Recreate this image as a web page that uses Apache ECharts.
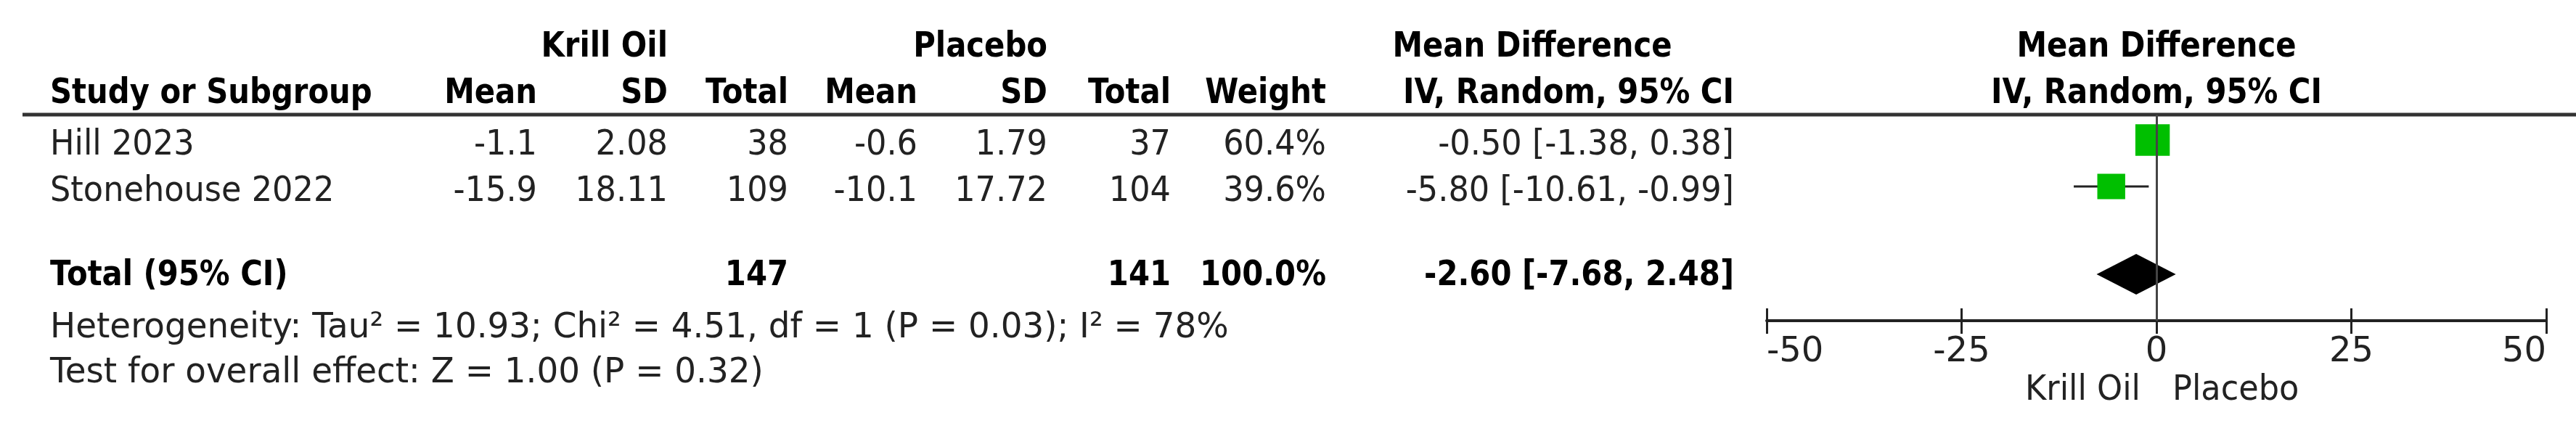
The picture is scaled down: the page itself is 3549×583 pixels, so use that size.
<!DOCTYPE html>
<html><head><meta charset="utf-8">
<script src="https://cdn.jsdelivr.net/npm/echarts@6/dist/echarts.min.js"></script>
<style>html,body{margin:0;padding:0;background:#fff}#c{width:3549px;height:583px}</style>
</head><body><div id="c"></div>
<script>
// ---------------- data ----------------
const studies = ['Hill 2023', 'Stonehouse 2022'];
const krillMean = [-1.1, -15.9];
const krillSD = [2.08, 18.11];
const krillN = [38, 109];
const placeboMean = [-0.6, -10.1];
const placeboSD = [1.79, 17.72];
const placeboN = [37, 104];
const weights = [60.4, 39.6];
const md = [-0.50, -5.80];
const ciLow = [-1.38, -10.61];
const ciHigh = [0.38, -0.99];
const totalKrillN = 147;
const totalPlaceboN = 141;
const totalWeight = 100.0;
const totalMD = -2.60;
const totalLow = -7.68;
const totalHigh = 2.48;
const xTicks = [-50, -25, 0, 25, 50];
const groupNames = ['Krill Oil', 'Placebo'];
const heterogeneityText = 'Heterogeneity: Tau\u00b2 = 10.93; Chi\u00b2 = 4.51, df = 1 (P = 0.03); I\u00b2 = 78%';
const overallText = 'Test for overall effect: Z = 1.00 (P = 0.32)';

// ---------------- layout ----------------
const FS = 48;
const FAMILY = '"DejaVu Sans", Verdana, sans-serif';
const SX_REG = 0.93, SX_BOLD = 0.87, SX_NOTE = 0.975;
const TEXT_DY = 12;
const COL = { study: 69, kMean: 740, kSD: 920, kN: 1086, pMean: 1264, pSD: 1443, pN: 1613, w: 1827, ci: 2389, mdHead: 2111, plot: 2971 };
const BASE = { h1: 78, h2: 142, rows: [213, 277], total: 393, het: 465, test: 527, dir: 551 };
const PLOT = { left: 2434, width: 1074, top: 158, height: 284 };
const ROW0_PX = 193, ROW_PX = 64, TOTAL_ROW = 2.89;
const GREEN = '#00BF00';

function fmtCI(m, lo, hi) { return m.toFixed(2) + ' [' + lo.toFixed(2) + ', ' + hi.toFixed(2) + ']'; }

function T(str, x, baseline, align, bold, color, sx) {
  return {
    type: 'text', x: x, y: baseline - TEXT_DY, scaleX: sx || (bold ? SX_BOLD : SX_REG), scaleY: 1,
    silent: true,
    style: {
      text: String(str), x: 0, y: 0,
      font: (bold ? 'bold ' : '') + FS + 'px ' + FAMILY,
      fill: color || (bold ? '#000' : '#222'),
      align: align, textAlign: align, verticalAlign: 'middle', textVerticalAlign: 'middle'
    }
  };
}

const g = [];
// header line 1
g.push(T(groupNames[0], COL.kSD, BASE.h1, 'right', true));
g.push(T(groupNames[1], COL.pSD, BASE.h1, 'right', true));
g.push(T('Mean Difference', COL.mdHead, BASE.h1, 'center', true));
g.push(T('Mean Difference', COL.plot, BASE.h1, 'center', true));
// header line 2
g.push(T('Study or Subgroup', COL.study, BASE.h2, 'left', true));
g.push(T('Mean', COL.kMean, BASE.h2, 'right', true));
g.push(T('SD', COL.kSD, BASE.h2, 'right', true));
g.push(T('Total', COL.kN, BASE.h2, 'right', true));
g.push(T('Mean', COL.pMean, BASE.h2, 'right', true));
g.push(T('SD', COL.pSD, BASE.h2, 'right', true));
g.push(T('Total', COL.pN, BASE.h2, 'right', true));
g.push(T('Weight', COL.w, BASE.h2, 'right', true));
g.push(T('IV, Random, 95% CI', COL.ci, BASE.h2, 'right', true));
g.push(T('IV, Random, 95% CI', COL.plot, BASE.h2, 'center', true));
// rule
g.push({ type: 'line', silent: true, shape: { x1: 31, y1: 158, x2: 3549, y2: 158 }, style: { stroke: '#333', lineWidth: 5 } });
// study rows
studies.forEach(function (s, i) {
  const b = BASE.rows[i];
  g.push(T(s, COL.study, b, 'left', false));
  g.push(T(String(krillMean[i]), COL.kMean, b, 'right', false));
  g.push(T(String(krillSD[i]), COL.kSD, b, 'right', false));
  g.push(T(String(krillN[i]), COL.kN, b, 'right', false));
  g.push(T(String(placeboMean[i]), COL.pMean, b, 'right', false));
  g.push(T(String(placeboSD[i]), COL.pSD, b, 'right', false));
  g.push(T(String(placeboN[i]), COL.pN, b, 'right', false));
  g.push(T(weights[i].toFixed(1) + '%', COL.w, b, 'right', false));
  g.push(T(fmtCI(md[i], ciLow[i], ciHigh[i]), COL.ci, b, 'right', false));
});
// total row
g.push(T('Total (95% CI)', COL.study, BASE.total, 'left', true));
g.push(T(String(totalKrillN), COL.kN, BASE.total, 'right', true));
g.push(T(String(totalPlaceboN), COL.pN, BASE.total, 'right', true));
g.push(T(totalWeight.toFixed(1) + '%', COL.w, BASE.total, 'right', true));
g.push(T(fmtCI(totalMD, totalLow, totalHigh), COL.ci, BASE.total, 'right', true));
g.push(T(heterogeneityText, COL.study, BASE.het, 'left', false, null, SX_NOTE));
g.push(T(overallText, COL.study, BASE.test, 'left', false, null, SX_NOTE));
// direction labels
g.push(T(groupNames[0], 2949, BASE.dir, 'right', false));
g.push(T(groupNames[1], 2993, BASE.dir, 'left', false));

const yMin = (PLOT.top - ROW0_PX) / ROW_PX;
const yMax = (PLOT.top + PLOT.height - ROW0_PX) / ROW_PX;

const studyData = studies.map(function (s, i) { return [md[i], i, weights[i], ciLow[i], ciHigh[i]]; });

const chart = echarts.init(document.getElementById('c'), null, { renderer: 'canvas' });
chart.setOption({
  backgroundColor: '#fff',
  animation: false,
  grid: { left: PLOT.left, width: PLOT.width, top: PLOT.top, height: PLOT.height, containLabel: false },
  xAxis: [
    { type: 'value', gridIndex: 0, position: 'bottom', min: xTicks[0], max: xTicks[xTicks.length - 1], interval: 25,
      axisLine: { show: true, onZero: false, lineStyle: { color: '#222', width: 4 } },
      axisTick: { show: true, inside: false, length: 18, lineStyle: { color: '#222', width: 3 } },
      axisLabel: { show: true, margin: 20, fontSize: FS, fontFamily: FAMILY, color: '#222', alignMinLabel: 'left', alignMaxLabel: 'right' },
      splitLine: { show: false } },
    { type: 'value', gridIndex: 0, position: 'bottom', min: xTicks[0], max: xTicks[xTicks.length - 1], interval: 25,
      axisLine: { show: false, onZero: false },
      axisTick: { show: true, inside: true, length: 17, lineStyle: { color: '#222', width: 3 } },
      axisLabel: { show: false }, splitLine: { show: false } }
  ],
  yAxis: { type: 'value', inverse: true, min: yMin, max: yMax, show: false },
  series: [
    { type: 'custom', name: 'CI', xAxisIndex: 0, z: 2,
      data: studyData,
      renderItem: function (params, api) {
        const a = api.coord([api.value(3), api.value(1)]);
        const b = api.coord([api.value(4), api.value(1)]);
        return { type: 'line', shape: { x1: a[0], y1: a[1], x2: b[0], y2: b[1] }, style: { stroke: '#222', lineWidth: 3 } };
      } },
    { type: 'scatter', name: 'Studies', xAxisIndex: 0, z: 3, symbol: 'rect',
      data: studyData,
      symbolSize: function (v) { return [6.1 * Math.sqrt(v[2]), 5.6 * Math.sqrt(v[2])]; },
      itemStyle: { color: GREEN, opacity: 1 } },
    { type: 'custom', name: 'Total', xAxisIndex: 0, z: 3,
      data: [[totalMD, TOTAL_ROW, totalLow, totalHigh]],
      renderItem: function (params, api) {
        const c = api.coord([api.value(0), api.value(1)]);
        const l = api.coord([api.value(2), api.value(1)]);
        const r = api.coord([api.value(3), api.value(1)]);
        const h = 28;
        return { type: 'polygon', shape: { points: [[l[0], c[1]], [c[0], c[1] - h], [r[0], c[1]], [c[0], c[1] + h]] }, style: { fill: '#000' } };
      } },
    { type: 'line', name: 'zero', xAxisIndex: 0, z: 6, data: [], silent: true,
      markLine: { silent: true, symbol: 'none', animation: false, label: { show: false },
        lineStyle: { color: '#444', width: 3, type: 'solid' }, data: [{ xAxis: 0 }] } }
  ],
  graphic: { elements: g }
});
</script></body></html>
